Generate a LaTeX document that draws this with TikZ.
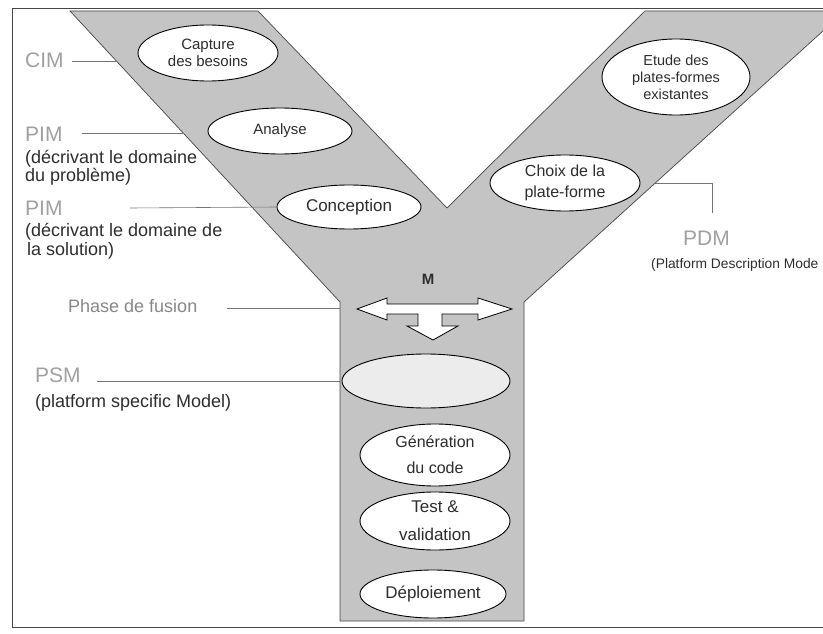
\documentclass[tikz,border=0pt]{standalone}
\usepackage{fontspec}
\setmainfont{Liberation Sans}
\usetikzlibrary{shapes.geometric}
\definecolor{yfill}{RGB}{196,196,196}
\definecolor{yedge}{RGB}{70,70,70}
\definecolor{linkgray}{RGB}{115,115,115}
\definecolor{ink}{RGB}{45,45,45}
\definecolor{acrgray}{RGB}{160,160,160}
\definecolor{fusegray}{RGB}{135,135,135}
\definecolor{psmfill}{RGB}{236,236,236}
\begin{document}
\begin{tikzpicture}[x=1pt,y=-1pt,
  stage/.style={ellipse, draw=black, line width=0.9pt, fill=white, align=center,
    inner sep=0pt, text=ink, font=\fontsize{15}{17}\selectfont},
  acr/.style={anchor=base west, inner sep=0pt, text=acrgray, font=\fontsize{21}{22}\selectfont},
  desc/.style={anchor=base west, inner sep=0pt, text=ink, font=\fontsize{18}{19}\selectfont},
  link/.style={draw=linkgray, line width=0.6pt},
  frame/.style={draw=yedge, line width=0.7pt}]
\useasboundingbox (0,0) rectangle (823,634);

% outer frame
\draw[frame] (823,8) -- (12,8) -- (12,627) -- (823,627);

% the Y-shaped band
\begin{scope}
\clip (0,0) rectangle (823,634);
\draw[fill=yfill, draw=yedge, line width=0.7pt]
  (70,11) -- (258,11) -- (447,208) -- (645,11) -- (845,11)
  -- (524,302) -- (524,621) -- (340,621) -- (340,302) -- cycle;
\end{scope}

% points on the band edges
\coordinate (eCIM) at (117,61);
\coordinate (ePIM) at (184,133);
\coordinate (eFus) at (340,308);
\coordinate (ePSM) at (340,381);
\coordinate (ePDM) at (655,183);
\coordinate (kPDM) at (712,183);
\coordinate (tPDM) at (712,213);

% steps along the arms and the stem
\node[stage, minimum width=140pt, minimum height=56pt] (cap) at (208,53) {Capture\\des besoins};
\node[stage, minimum width=144pt, minimum height=46pt] (ana) at (280,131) {Analyse};
\node[stage, minimum width=144pt, minimum height=44pt, font=\fontsize{17}{18}\selectfont] (conc) at (349,207) {Conception};
\node[stage, minimum width=148pt, minimum height=76pt, font=\fontsize{14.5}{17}\selectfont] (etude) at (676,77) {Etude des\\plates-formes\\existantes};
\node[stage, minimum width=150pt, minimum height=56pt, font=\fontsize{16}{21}\selectfont] (choix) at (565,183) {Choix de la\\plate-forme};
\node[stage, fill=psmfill, minimum width=168pt, minimum height=54pt] (psm) at (426,381) {};
\node[stage, minimum width=150pt, minimum height=62pt, font=\fontsize{16}{26}\selectfont] (gen) at (435,455) {Génération\\du code};
\node[stage, minimum width=150pt, minimum height=58pt, font=\fontsize{17}{28}\selectfont] (test) at (435,521) {Test \&\\validation};
\node[stage, minimum width=146pt, minimum height=48pt, font=\fontsize{17}{18}\selectfont] (dep) at (433,594) {Déploiement};

% fusion arrow
\draw[fill=white, draw=black, line width=0.8pt, line join=miter]
  (357,309) -- (387,298) -- (387,304) -- (478,304) -- (478,298) -- (512,309)
  -- (478,320) -- (478,314) -- (442,314) -- (442,326) -- (458,326) -- (433,340)
  -- (407,326) -- (418,326) -- (418,314) -- (387,314) -- (387,320) -- cycle;
\node[inner sep=0pt, text=ink, font=\bfseries\fontsize{15}{16}\selectfont] (m) at (428,279) {M};

% level labels
\node[acr] (cim) at (25,68) {CIM};
\node[acr] (pim1) at (25,142) {PIM};
\node[desc] (pim1a) at (25,163) {(décrivant le domaine};
\node[desc] (pim1b) at (25,182) {du problème)};
\node[acr] (pim2) at (25,215) {PIM};
\node[desc] (pim2a) at (25,236) {(décrivant le domaine de};
\node[desc] (pim2b) at (27,255) {la solution)};
\node[desc, text=fusegray] (fus) at (68,312) {Phase de fusion};
\node[acr] (psml) at (35,382) {PSM};
\node[desc] (psmd) at (35,407) {(platform specific Model)};
\node[acr] (pdm) at (683,245) {PDM};
\node[desc, font=\fontsize{13.8}{15}\selectfont] (pdmd) at (651,268) {(Platform Description Mode};

% leader lines
\draw[link] (72,61) -- (eCIM);
\draw[link] (82,133) -- (ePIM);
\draw[link] (130,208) -- (conc.west);
\draw[link] (227,308) -- (eFus);
\draw[link] (97,381) -- (ePSM);
\draw[link] (ePDM) -- (kPDM) -- (tPDM);
\end{tikzpicture}
\end{document}
